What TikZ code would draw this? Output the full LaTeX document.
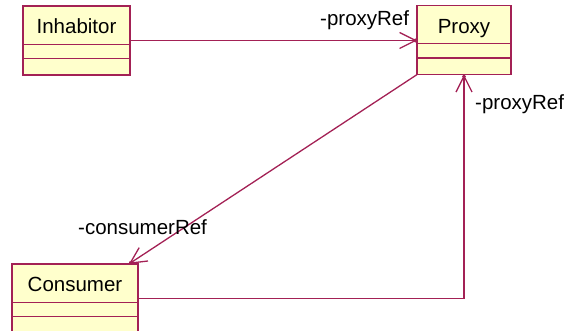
\documentclass[tikz,border=0pt]{standalone}
\usepackage{fontspec}
\setmainfont{Liberation Sans}
\usetikzlibrary{shapes.multipart,arrows.meta}
\definecolor{umlline}{RGB}{163,33,85}
\definecolor{umlfill}{RGB}{255,255,204}
\tikzset{
  umlclass/.style={draw=umlline, fill=umlfill, line width=1.4pt,
    rectangle split, rectangle split parts=3, inner sep=0pt, outer sep=0pt,
    align=center, font=\fontsize{20.5}{24}\selectfont},
  assoc/.style={draw=umlline, line width=1.3pt,
    -{Straight Barb[length=16pt,width=16pt,sep=-3.5pt]Circle[length=3.5pt]}},
  role/.style={font=\fontsize{20.5}{24}\selectfont, inner sep=0pt, anchor=base west}
}
\begin{document}
\begin{tikzpicture}[x=1pt, y=-1pt]
    \useasboundingbox (0,0) rectangle (571,331);
    % classes
    \node[umlclass, text width=107pt] (inhabitor) at (76.5,40.5)
        {\rule[-10pt]{0pt}{37pt}Inhabitor\nodepart{two}\rule{0pt}{13pt}\nodepart{three}\rule{0pt}{15pt}};
    \node[umlclass, text width=94pt] (proxy) at (464,40)
        {\rule[-10pt]{0pt}{37pt}Proxy\nodepart{two}\rule{0pt}{13pt}\nodepart{three}\rule{0pt}{15pt}};
    \node[umlclass, text width=126pt] (consumer) at (75,298.5)
        {\rule[-10pt]{0pt}{37pt}Consumer\nodepart{two}\rule{0pt}{13pt}\nodepart{three}\rule{0pt}{15pt}};
    % associations
    \draw[assoc] (inhabitor.east) -- (inhabitor.east -| proxy.west);
    \draw[assoc] (proxy.south west) -- ([xshift=-9pt]consumer.north east);
    \draw[assoc] (consumer.east) -| (proxy.south);
    % role names
    \node[role] (proxyref-top) at (320,26) {-proxyRef};
    \node[role] (proxyref-side) at (475,110) {-proxyRef};
    \node[role] (consumerref) at (78,235) {-consumerRef};
\end{tikzpicture}
\end{document}
